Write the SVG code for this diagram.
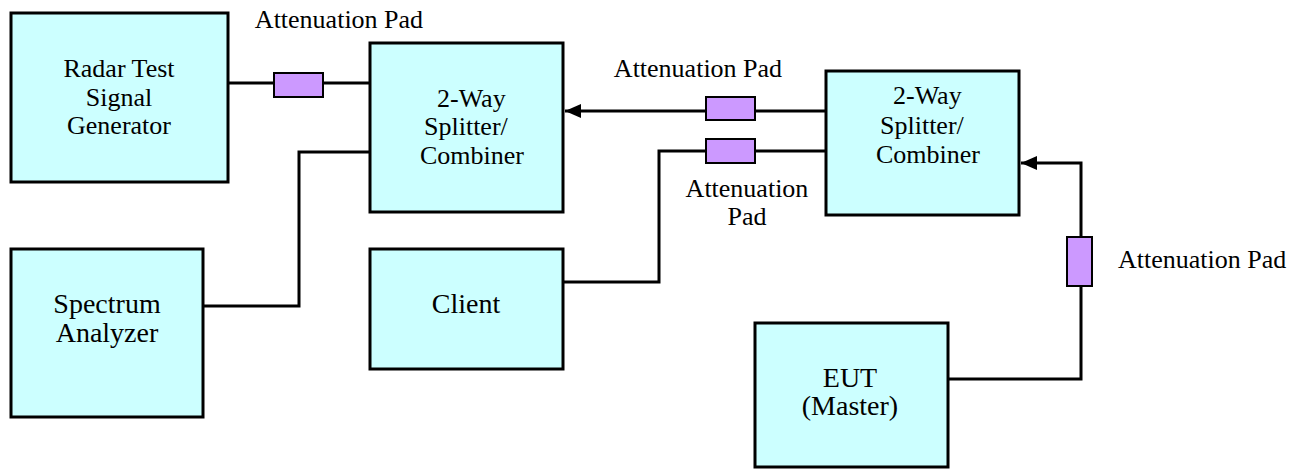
<svg xmlns="http://www.w3.org/2000/svg" width="1305" height="472" viewBox="0 0 1305 472">
  <style>
    .box { fill: #CCFFFF; stroke: #000; stroke-width: 3; }
    .pad { fill: #CC99FF; stroke: #000; stroke-width: 2; }
    .wire { fill: none; stroke: #000; stroke-width: 3; stroke-linejoin: miter; }
    .t26 { font-size: 26px; }
    .t28 { font-size: 28px; }
    .mid { text-anchor: middle; }
  </style>
  <defs>
    <marker id="arrow" markerUnits="userSpaceOnUse" markerWidth="16" markerHeight="14" viewBox="0 0 16 14" refX="16" refY="7" orient="auto">
      <path d="M0,0 L16,7 L0,14 Z" fill="#000"/>
    </marker>
  </defs>

  <!-- connectors -->
  <g id="connectors">
    <!-- signal generator to splitter 1 -->
    <path class="wire" d="M228,83 H274"/>
    <path class="wire" d="M323,83 H370"/>
    <!-- spectrum analyzer to splitter 1 -->
    <path class="wire" d="M203,306 H299 V152 H370"/>
    <!-- splitter 2 to splitter 1 -->
    <path class="wire" d="M826,111 H755"/>
    <path class="wire" d="M706,111 H565" marker-end="url(#arrow)"/>
    <!-- client to splitter 2 -->
    <path class="wire" d="M563,282 H659 V151 H706"/>
    <path class="wire" d="M755,151 H826"/>
    <!-- EUT to splitter 2 -->
    <path class="wire" d="M948,379 H1081 V286"/>
    <path class="wire" d="M1081,237 V163 H1021" marker-end="url(#arrow)"/>
  </g>

  <g font-family="Liberation Serif, Times New Roman, Times, serif" fill="#000">
    <!-- attenuation pads -->
    <g id="pad1">
      <rect class="pad" x="274" y="73" width="49" height="24"/>
      <text class="t26 mid" x="339" y="28">Attenuation Pad</text>
    </g>
    <g id="pad2">
      <rect class="pad" x="706" y="97" width="49" height="23"/>
      <text class="t26 mid" x="698" y="77">Attenuation Pad</text>
    </g>
    <g id="pad3">
      <rect class="pad" x="706" y="139" width="49" height="24"/>
      <text class="t26 mid" x="747" y="197">Attenuation</text>
      <text class="t26 mid" x="747" y="225">Pad</text>
    </g>
    <g id="pad4">
      <rect class="pad" x="1067" y="237" width="25" height="49"/>
      <text class="t26" x="1118" y="268">Attenuation Pad</text>
    </g>

    <!-- equipment -->
    <g id="signal-generator">
      <rect class="box" x="11" y="13" width="217" height="169"/>
      <text class="t26 mid" x="119" y="77">Radar Test</text>
      <text class="t26 mid" x="119" y="106">Signal</text>
      <text class="t26 mid" x="119" y="134">Generator</text>
    </g>
    <g id="splitter1">
      <rect class="box" x="370" y="43" width="193" height="169"/>
      <text class="t26" x="437" y="107">2-Way</text>
      <text class="t26" x="424" y="135">Splitter/</text>
      <text class="t26" x="420" y="164">Combiner</text>
    </g>
    <g id="splitter2">
      <rect class="box" x="826" y="71" width="193" height="144"/>
      <text class="t26" x="893" y="104">2-Way</text>
      <text class="t26" x="880" y="134">Splitter/</text>
      <text class="t26" x="876" y="163">Combiner</text>
    </g>
    <g id="spectrum-analyzer">
      <rect class="box" x="11" y="249" width="192" height="168"/>
      <text class="t28 mid" x="107" y="313">Spectrum</text>
      <text class="t28 mid" x="107" y="342">Analyzer</text>
    </g>
    <g id="client">
      <rect class="box" x="370" y="249" width="193" height="120"/>
      <text class="t28 mid" x="466" y="313">Client</text>
    </g>
    <g id="eut">
      <rect class="box" x="755" y="323" width="193" height="144"/>
      <text class="t28 mid" x="850" y="387">EUT</text>
      <text class="t28 mid" x="850" y="415">(Master)</text>
    </g>
  </g>
</svg>
